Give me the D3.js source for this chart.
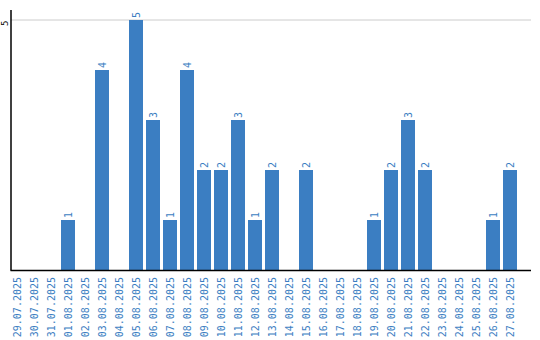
<!DOCTYPE html>
<html><head><meta charset="utf-8">
<script src="https://cdn.jsdelivr.net/npm/d3@7"></script>
<style>body{margin:0;background:#fff}svg{display:block}</style>
</head><body>
<script>
const categories = ["29.07.2025","30.07.2025","31.07.2025","01.08.2025","02.08.2025","03.08.2025","04.08.2025","05.08.2025","06.08.2025","07.08.2025","08.08.2025","09.08.2025","10.08.2025","11.08.2025","12.08.2025","13.08.2025","14.08.2025","15.08.2025","16.08.2025","17.08.2025","18.08.2025","19.08.2025","20.08.2025","21.08.2025","22.08.2025","23.08.2025","24.08.2025","25.08.2025","26.08.2025","27.08.2025"];
const values = [0,0,0,1,0,4,0,5,3,1,4,2,2,3,1,2,0,2,0,0,0,1,2,3,2,0,0,0,1,2];
const yTicks = [5];

const W = 540, H = 340;
const svg = d3.select("body").append("svg").attr("width", W).attr("height", H);
const x = d3.scaleBand().domain(categories).range([8.5, 518.5]).paddingInner(3/17).paddingOuter(1.5/17);
const y = d3.scaleLinear().domain([0, 5]).range([270, 20]);
const blue = "#3b7ec2";

// gridlines
svg.selectAll("line.grid").data(yTicks).join("line")
  .attr("x1", 11).attr("x2", 531).attr("y1", d => y(d)).attr("y2", d => y(d))
  .attr("stroke", "#cccccc").attr("stroke-width", 1);

// bars
svg.selectAll("rect.bar").data(values).join("rect")
  .attr("x", (d,i) => x(categories[i])).attr("width", x.bandwidth())
  .attr("y", d => y(d)).attr("height", d => y(0) - y(d))
  .attr("fill", blue);

// value labels
svg.selectAll("text.val").data(values.map((v,i)=>({v,c:categories[i]})).filter(d=>d.v>0)).join("text")
  .attr("transform", d => `translate(${x(d.c)+x.bandwidth()/2+3.5},${y(d.v)-2}) rotate(-90)`)
  .attr("font-family", "DejaVu Sans Mono").attr("font-size", 10).attr("fill", blue)
  .text(d => d.v);

// y axis line
svg.append("line").attr("x1", 11).attr("x2", 11).attr("y1", 10).attr("y2", 270.5)
  .attr("stroke", "#000").attr("stroke-width", 1.5);
// x axis line
svg.append("line").attr("x1", 10.5).attr("x2", 531).attr("y1", 270.5).attr("y2", 270.5)
  .attr("stroke", "#000").attr("stroke-width", 1.5);

// y tick labels
svg.selectAll("text.yt").data(yTicks).join("text")
  .attr("transform", d => `translate(8,${y(d)+6}) rotate(-90)`)
  .attr("text-anchor", "start")
  .attr("font-family", "DejaVu Sans Mono").attr("font-size", 9).attr("fill", "#000")
  .text(d => d);

// x labels
svg.selectAll("text.xl").data(categories).join("text")
  .attr("transform", d => `translate(${x(d)+x.bandwidth()/2+3.5},277) rotate(-90)`)
  .attr("text-anchor", "end")
  .attr("font-family", "DejaVu Sans Mono").attr("font-size", 10).attr("fill", blue)
  .text(d => d);
</script>
</body></html>
